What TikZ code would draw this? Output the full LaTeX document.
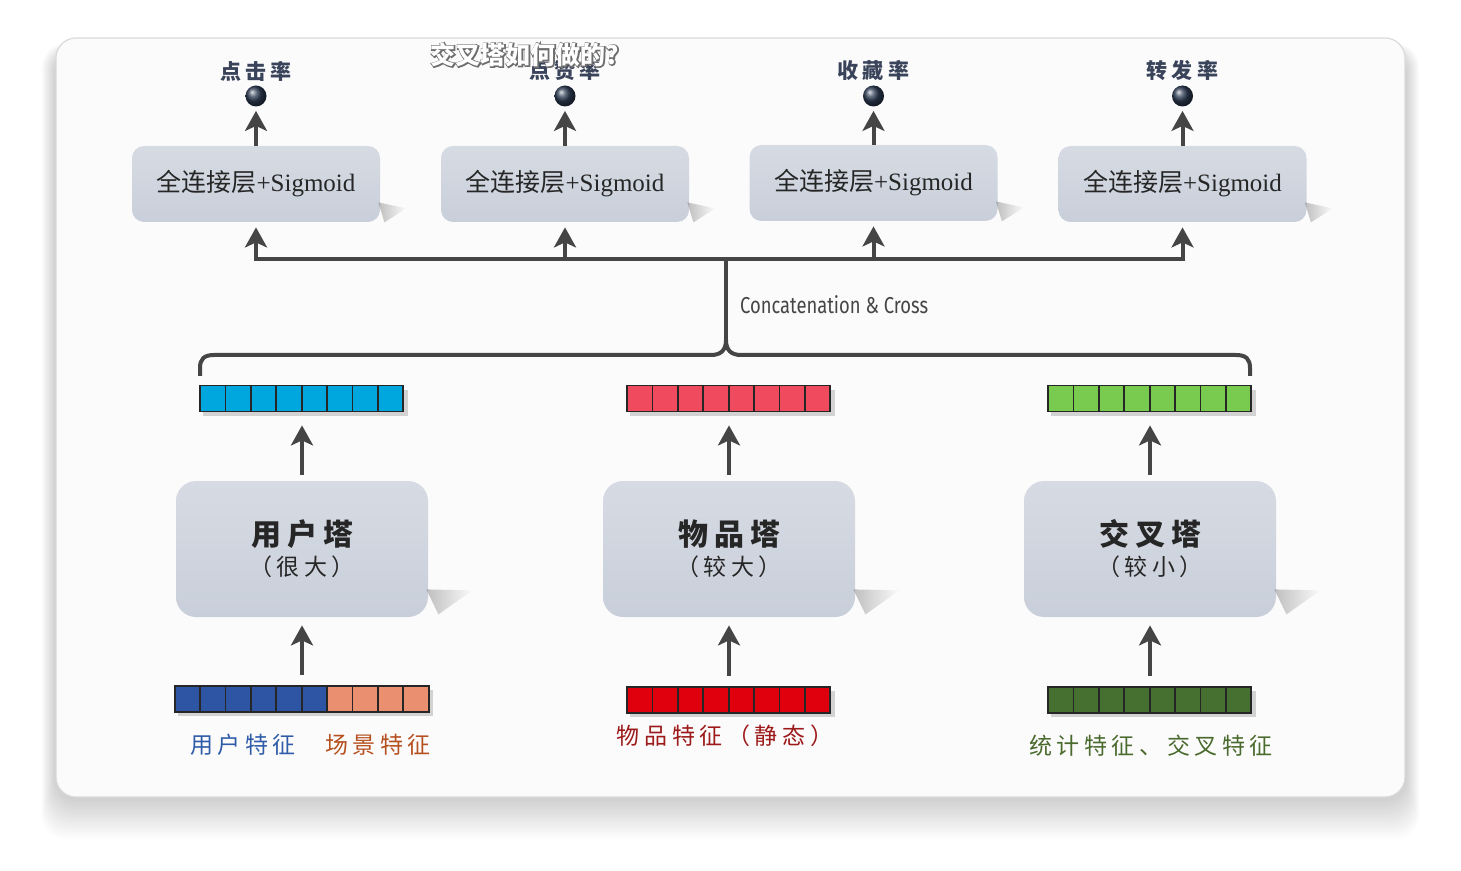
\documentclass[tikz,border=0pt]{standalone}
\usepackage{fontspec}
\setmainfont{Liberation Serif}
\newfontfamily\cjk{Noto Sans CJK SC}
\newfontfamily\cjkwide{Noto Sans CJK SC}[LetterSpace=20]
\newfontfamily\cjkhalo{Noto Sans CJK SC}[FakeBold=8]
\newfontfamily\condsans{Fira Sans}[FakeStretch=0.8]
\usetikzlibrary{arrows.meta,calc,fadings,positioning}

\definecolor{cardfill}{HTML}{FCFBFC}
\definecolor{cardline}{HTML}{DADADA}
\definecolor{boxtop}{HTML}{D6DBE3}
\definecolor{boxbot}{HTML}{C9CFDA}
\definecolor{linegray}{HTML}{454545}
\definecolor{ratenavy}{HTML}{39435A}
\definecolor{ballnavy}{HTML}{2E3D55}
\definecolor{vcyan}{HTML}{00A6DE}
\definecolor{vpink}{HTML}{F04A5E}
\definecolor{vlime}{HTML}{78CB4E}
\definecolor{vblue}{HTML}{2D55A4}
\definecolor{vsalmon}{HTML}{EA9071}
\definecolor{vred}{HTML}{E0000D}
\definecolor{vgreen}{HTML}{45702F}
\definecolor{tblue}{HTML}{2F5CA8}
\definecolor{torange}{HTML}{B5501F}
\definecolor{tred}{HTML}{9C1A1A}
\definecolor{tgreen}{HTML}{4A6B2E}
\definecolor{halogray}{HTML}{6E6E6E}

% white caption text with a grey rim
\newcommand{\halotext}[1]{\leavevmode
  \rlap{\cjkhalo\bfseries\textcolor{halogray}{#1}}%
  \textcolor{white}{#1}}

\tikzset{
  fcbox/.style={rectangle, rounded corners=6pt, top color=boxtop, bottom color=boxbot, minimum width=124pt, minimum height=38pt, text=black!85, font=\fontsize{12.5}{14}\selectfont},
  tower/.style={rectangle, rounded corners=10pt, top color=boxtop, bottom color=boxbot, minimum width=126pt, minimum height=68pt, align=center, text=black!85, font=\cjkwide},
  ratelabel/.style={font=\cjkwide\bfseries\fontsize{10.5}{12}\selectfont, text=ratenavy},
  ball/.style={circle, inner sep=0pt, minimum size=10.5pt, ball color=ballnavy},
  arr/.style={draw=linegray, line width=2pt, -{Stealth[length=10pt,width=11pt,inset=2.5pt]}},
  bus/.style={draw=linegray, line width=2pt},
  vecslot/.style={rectangle, inner sep=0pt, minimum height=13pt},
  cell/.style={draw=black!85, line width=0.9pt},
  vecshadow/.style={fill=black, opacity=0.16},
  boxshadow/.style={fill=black!60, opacity=0.4, path fading=east},
  featlabel/.style={font=\cjkwide\fontsize{11.5}{13}\selectfont},
  subtitle/.style={font=\cjk\bfseries\fontsize{12.5}{14}\selectfont}
}

\begin{document}
\begin{tikzpicture}[x=0.5pt, y=-0.5pt]
  \useasboundingbox (0,0) rectangle (1461,871);

  % card with soft shadow
  \foreach \k in {1,...,16}
    \fill[black, opacity=0.011, rounded corners=12pt] (56-0.9*\k,50-0.4*\k) rectangle (1405+0.9*\k,797+2.6*\k);
  \draw[cardline, fill=cardfill, rounded corners=10pt, line width=0.6pt] (56,38) rectangle (1405,797);

  % task heads
  \node (fc1) [fcbox] at (256,184) {{\cjk 全连接层}+Sigmoid};
  \node (fc2) [fcbox] at (565,184) {{\cjk 全连接层}+Sigmoid};
  \node (fc3) [fcbox] at (873.5,183) {{\cjk 全连接层}+Sigmoid};
  \node (fc4) [fcbox] at (1182.5,184) {{\cjk 全连接层}+Sigmoid};
  \foreach \n in {fc1,fc2,fc3,fc4}
    \fill[boxshadow] ($(\n.south east)+(-2,-20)$) -- ($(\n.south east)+(26,-14)$) -- ($(\n.south east)+(4,0)$) -- cycle;

  \node (b1) [ball] at (256,96) {};
  \node (b2) [ball] at (565,96) {};
  \node (b3) [ball] at (873.5,96) {};
  \node (b4) [ball] at (1182.5,96) {};
  \node (r1) [ratelabel] at (256,71) {点击率};
  \node (r2) [ratelabel] at (565,71) {点赞率};
  \node (r3) [ratelabel] at (873.5,71) {收藏率};
  \node (r4) [ratelabel] at (1182.5,71) {转发率};
  \draw[arr, shorten >=2pt] (fc1.north) -- (b1.south);
  \draw[arr, shorten >=2pt] (fc2.north) -- (b2.south);
  \draw[arr, shorten >=2pt] (fc3.north) -- (b3.south);
  \draw[arr, shorten >=2pt] (fc4.north) -- (b4.south);

  % concatenation bus
  \coordinate (split) at (726,259);
  \coordinate (cusp) at (726,340);
  \draw[bus, line cap=rect] (fc1.south |- split) -- (fc4.south |- split);
  \foreach \n in {fc1,fc2,fc3,fc4}
    \draw[arr, shorten >=2.5pt] (\n.south |- split) -- (\n.south);
  \draw[bus] (split) -- (cusp);
  \draw[bus] (200,376) -- (200,368) .. controls (200,359) and (204,355) .. (214,355) -- (711,355) .. controls (721,355) and (726,350) .. (cusp)
    .. controls (726,350) and (731,355) .. (741,355) -- (1236,355) .. controls (1246,355) and (1250,359) .. (1250,368) -- (1250,376);
  \node (cat) [anchor=west, text=linegray, font=\condsans\fontsize{11.5}{13}\selectfont] at (733,305) {Concatenation \& Cross};

  % tower outputs
  \node (uv) [vecslot, minimum width=101.6pt] at (302,399) {};
  \node (iv) [vecslot, minimum width=101.6pt] at (729,399) {};
  \node (cv) [vecslot, minimum width=101.6pt] at (1150,399) {};
  \foreach \n/\c in {uv/vcyan,iv/vpink,cv/vlime} {
    \fill[vecshadow] ($(\n.north west)+(3,4)$) rectangle ($(\n.south east)+(4,4)$);
    \foreach \i in {0,...,7}
      \draw[cell, fill=\c] ($(\n.north west)+(25.4*\i,0)$) rectangle ++(25.4,26);
  }

  % towers
  \node (t1) [tower] at (302,549) {{\bfseries\fontsize{15}{17}\selectfont 用户塔}\\[3pt]{\fontsize{11.5}{13}\selectfont （很大）}};
  \node (t2) [tower] at (729,549) {{\bfseries\fontsize{15}{17}\selectfont 物品塔}\\[3pt]{\fontsize{11.5}{13}\selectfont （较大）}};
  \node (t3) [tower] at (1150,549) {{\bfseries\fontsize{15}{17}\selectfont 交叉塔}\\[3pt]{\fontsize{11.5}{13}\selectfont （较小）}};
  \foreach \n in {t1,t2,t3}
    \fill[boxshadow] ($(\n.south east)+(-2,-28)$) -- ($(\n.south east)+(44,-27)$) -- ($(\n.south east)+(10,-3)$) -- cycle;
  \draw[arr, shorten <=3pt, shorten >=6.5pt] (t1.north) -- (uv.south);
  \draw[arr, shorten <=3pt, shorten >=6.5pt] (t2.north) -- (iv.south);
  \draw[arr, shorten <=3pt, shorten >=6.5pt] (t3.north) -- (cv.south);

  % input features
  \node (uin) [vecslot, minimum width=127pt] at (302,699) {};
  \node (iin) [vecslot, minimum width=101.6pt] at (729,700) {};
  \node (cin) [vecslot, minimum width=101.6pt] at (1150,700) {};
  \foreach \n in {uin,iin,cin}
    \fill[vecshadow] ($(\n.north west)+(3,4)$) rectangle ($(\n.south east)+(4,4)$);
  \foreach \i in {0,...,5}
    \draw[cell, fill=vblue] ($(uin.north west)+(25.4*\i,0)$) rectangle ++(25.4,26);
  \foreach \i in {6,...,9}
    \draw[cell, fill=vsalmon] ($(uin.north west)+(25.4*\i,0)$) rectangle ++(25.4,26);
  \foreach \i in {0,...,7} {
    \draw[cell, fill=vred] ($(iin.north west)+(25.4*\i,0)$) rectangle ++(25.4,26);
    \draw[cell, fill=vgreen] ($(cin.north west)+(25.4*\i,0)$) rectangle ++(25.4,26);
  }
  \draw[arr, shorten <=5.5pt, shorten >=4pt] (uin.north) -- (t1.south);
  \draw[arr, shorten <=5.5pt, shorten >=4pt] (iin.north) -- (t2.south);
  \draw[arr, shorten <=5.5pt, shorten >=4pt] (cin.north) -- (t3.south);

  \node (ulab) [featlabel, text=tblue] at (243,745) {用户特征};
  \node (slab) [featlabel, text=torange] at (378,745) {场景特征};
  \node (ilab) [featlabel, text=tred] at (725,736) {物品特征（静态）};
  \node (clab) [featlabel, text=tgreen] at (1151,746) {统计特征、交叉特征};

  % caption overlay
  \node (subt) [subtitle] at (525,55) {\halotext{交叉塔如何做的?}};
\end{tikzpicture}
\end{document}
